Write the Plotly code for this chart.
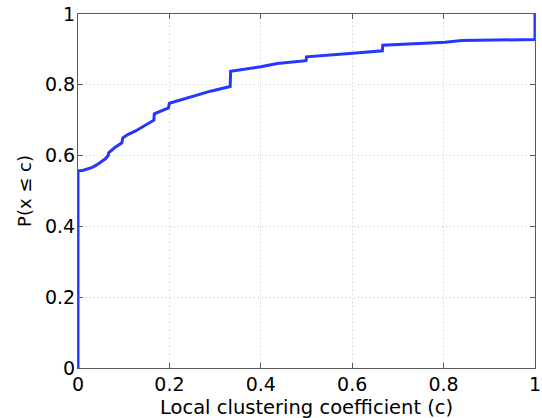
import plotly.graph_objects as go

c_values = [0, 0, 0.01, 0.02, 0.03, 0.04, 0.05, 0.06, 0.066, 0.067, 0.08, 0.096,
            0.098, 0.11, 0.125, 0.14, 0.155, 0.166, 0.167, 0.18, 0.198, 0.2,
            0.23, 0.26, 0.29, 0.333, 0.334, 0.400, 0.436, 0.499, 0.5, 0.601,
            0.666, 0.667, 0.803, 0.840, 0.998, 1.0, 1.0]
p_values = [0, 0.557, 0.558, 0.561, 0.566, 0.573, 0.581, 0.591, 0.600, 0.608, 0.622, 0.636,
            0.650, 0.660, 0.669, 0.681, 0.692, 0.700, 0.718, 0.726, 0.735, 0.748,
            0.760, 0.770, 0.782, 0.795, 0.838, 0.851, 0.860, 0.868, 0.879, 0.889,
            0.896, 0.912, 0.920, 0.925, 0.928, 0.928, 1.0]
x_ticks = [0, 0.2, 0.4, 0.6, 0.8, 1]
x_tick_labels = ["0", "0.2", "0.4", "0.6", "0.8", "1"]
y_ticks = [0, 0.2, 0.4, 0.6, 0.8, 1]
y_tick_labels = ["0", "0.2", "0.4", "0.6", "0.8", "1"]
x_title = "Local clustering coefficient (c)"
y_title = "P(x \u2264 c)"

fig = go.Figure()
fig.add_trace(go.Scatter(
    x=c_values, y=p_values, mode="lines",
    line=dict(color="rgb(35,55,255)", width=3),
    showlegend=False, hoverinfo="skip", cliponaxis=False,
))

font = dict(family="DejaVu Sans, sans-serif", size=19, color="black")
x_title_font = dict(family="DejaVu Sans, sans-serif", size=19.5, color="black")
y_title_font = dict(family="DejaVu Sans, sans-serif", size=18, color="black")
axis_common = dict(
    showline=True, linecolor="#5a5a5a", linewidth=1, mirror="ticks",
    ticks="inside", ticklen=5, tickcolor="#5a5a5a",
    showgrid=True, gridcolor="#c4c4c4", griddash="1px,3px", gridwidth=1,
    zeroline=False, tickfont=font, automargin=False,
)
fig.update_xaxes(range=[0, 1], tickvals=x_ticks, ticktext=x_tick_labels,
                 ticklabelstandoff=-1, **axis_common)
fig.update_yaxes(range=[0, 1], tickvals=y_ticks, ticktext=y_tick_labels,
                 title=dict(text=y_title, font=y_title_font, standoff=8),
                 ticklabelstandoff=-2, **axis_common)
fig.add_annotation(text=x_title, xref="paper", yref="paper", x=0.5, y=-0.112,
                   xanchor="center", yanchor="middle", showarrow=False, font=x_title_font)
fig.update_layout(
    width=542, height=418,
    margin=dict(l=78, r=7, t=14, b=50),
    paper_bgcolor="white", plot_bgcolor="white",
    font=font,
)
fig.write_html("out.html", config={"displayModeBar": False},
               post_script="document.body.style.margin='0';")
